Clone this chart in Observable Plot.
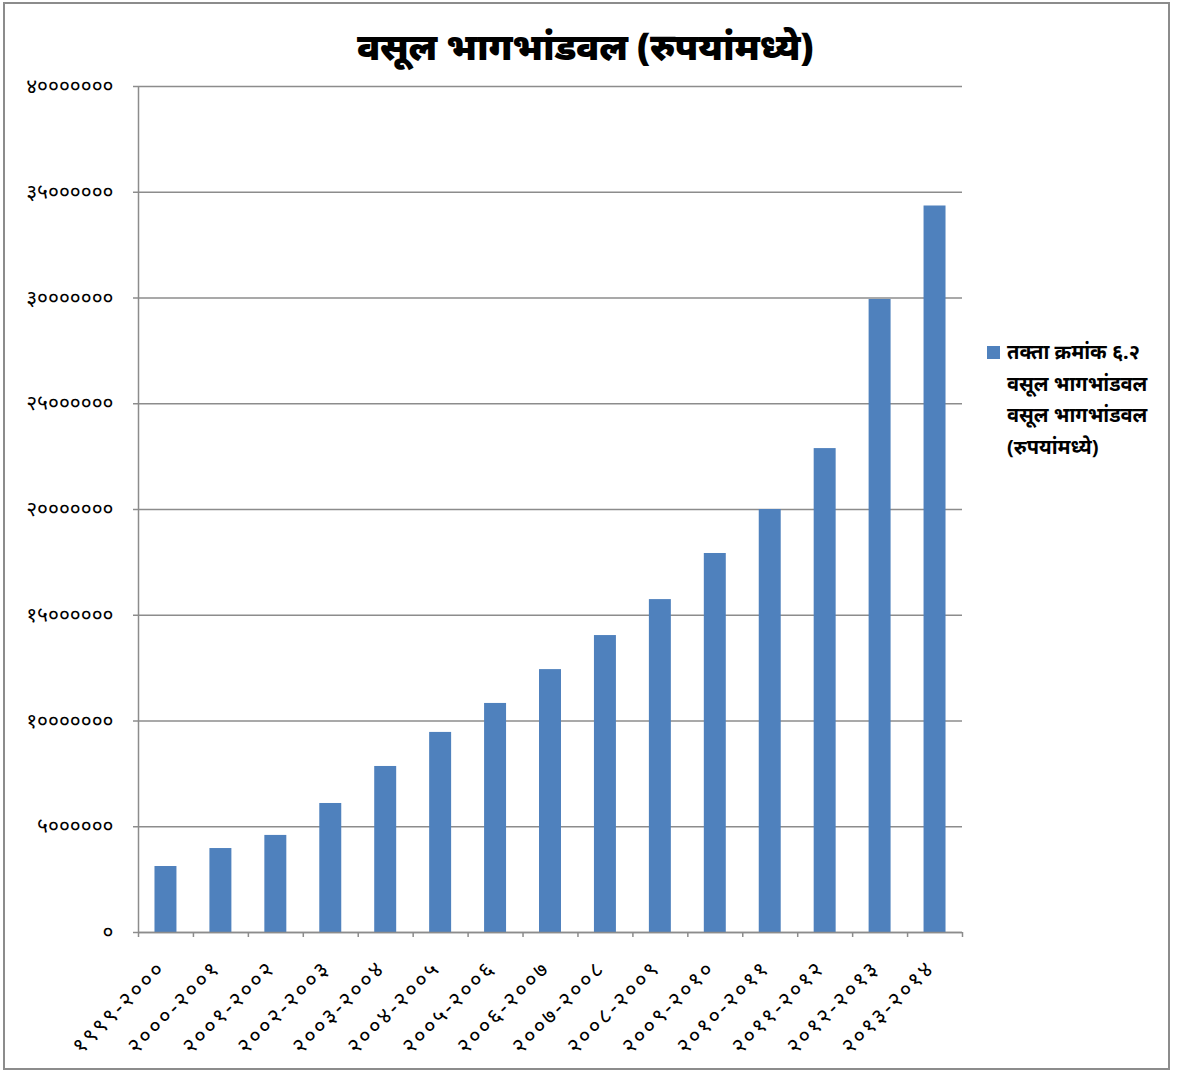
<!DOCTYPE html>
<html>
<head>
<meta charset="utf-8">
<script src="https://cdn.jsdelivr.net/npm/d3@7"></script>
<script src="https://cdn.jsdelivr.net/npm/@observablehq/plot@0.6"></script>
<style>
  html, body { margin: 0; padding: 0; background: #fff; }
  #wrap { position: relative; width: 1184px; height: 1072px; overflow: hidden; font-family: "Noto Sans", sans-serif; }
  #border { position: absolute; left: 3px; top: 2px; width: 1167px; height: 1068px; border: 2px solid #8c8c8c; box-sizing: border-box; }
  #title { position: absolute; left: 0; width: 1170px; top: 20px; text-align: center; font-size: 37px; font-weight: 900; color: #000; letter-spacing: -0.3px; }
  #chart { position: absolute; left: 0; top: 0; }
  #chart svg g[aria-label="x-axis tick label"] text { letter-spacing: 2.5px; }
  #legend { position: absolute; left: 987px; top: 336px; font-size: 20px; font-weight: bold; color: #000; line-height: 31.5px; }
  #legend .sw { display: inline-block; width: 13px; height: 13px; background: #4F81BD; margin-right: 7px; vertical-align: 0px; }
  #legend .ln { padding-left: 20px; }
</style>
</head>
<body>
<div id="wrap">
  <div id="border"></div>
  <div id="chart"></div>
  <div id="title"></div>
  <div id="legend"></div>
</div>
<script>
const titleText = "वसूल भागभांडवल (रुपयांमध्ये)";
const legendLines = ["तक्ता क्रमांक ६.२", "वसूल भागभांडवल", "वसूल भागभांडवल", "(रुपयांमध्ये)"];
const categories = ["१९९९-२०००", "२०००-२००१", "२००१-२००२", "२००२-२००३", "२००३-२००४", "२००४-२००५", "२००५-२००६", "२००६-२००७", "२००७-२००८", "२००८-२००९", "२००९-२०१०", "२०१०-२०११", "२०११-२०१२", "२०१२-२०१३", "२०१३-२०१४"];
const values = [3120000, 3970000, 4590000, 6100000, 7850000, 9460000, 10830000, 12430000, 14040000, 15740000, 17920000, 20000000, 22880000, 29930000, 34350000];
const yTicks = [0, 5000000, 10000000, 15000000, 20000000, 25000000, 30000000, 35000000, 40000000];

const devDigits = "०१२३४५६७८९";
const toDev = n => String(n).replace(/[0-9]/g, c => devDigits[+c]);

const data = categories.map((c, i) => ({cat: c, value: values[i]}));

const W = 1184, H = 1072, mL = 138, mR = 222, mT = 86, mB = 140;
const step = (W - mL - mR) / categories.length;
const gray = "#8c8c8c";

document.getElementById("title").textContent = titleText;
document.getElementById("legend").innerHTML = legendLines.map((t, i) =>
  i === 0 ? `<div><span class="sw"></span>${t}</div>` : `<div class="ln">${t}</div>`).join("");

const chart = Plot.plot({
  width: W, height: H,
  marginLeft: mL, marginRight: mR, marginTop: mT, marginBottom: mB,
  style: {fontFamily: "'Noto Sans', sans-serif", background: "transparent"},
  x: {domain: categories, paddingInner: 0.6, paddingOuter: 0.3, round: false, label: null},
  y: {domain: [0, 40000000], label: null},
  marks: [
    Plot.gridY(yTicks, {stroke: gray, strokeOpacity: 1, strokeWidth: 1.5}),
    Plot.barY(data, {x: "cat", y: "value", fill: "#4F81BD"}),
    Plot.axisY({ticks: yTicks, tickFormat: toDev, tickSize: 5, tickPadding: 20, stroke: gray, strokeWidth: 1.5, fontSize: 21, fill: "#000", label: null}),
    Plot.ruleX([0], {x: () => categories[0], dx: -step / 2, y1: 0, y2: 40000000, stroke: gray, strokeWidth: 1.5}),
    Plot.ruleY([0], {stroke: gray, strokeWidth: 1.5}),
    Plot.ruleX(categories, {x: d => d, dx: -step / 2, y1: 0, y2: 0, insetBottom: -5, stroke: gray, strokeWidth: 1.5}),
    Plot.ruleX([categories[categories.length - 1]], {x: d => d, dx: step / 2, y1: 0, y2: 0, insetBottom: -5, stroke: gray, strokeWidth: 1.5}),
    Plot.axisX({tickSize: 0, tickPadding: 32, tickRotate: -45, fontSize: 22, fill: "#000", label: null, dx: -4})
  ]
});
document.getElementById("chart").appendChild(chart);
</script>
</body>
</html>
